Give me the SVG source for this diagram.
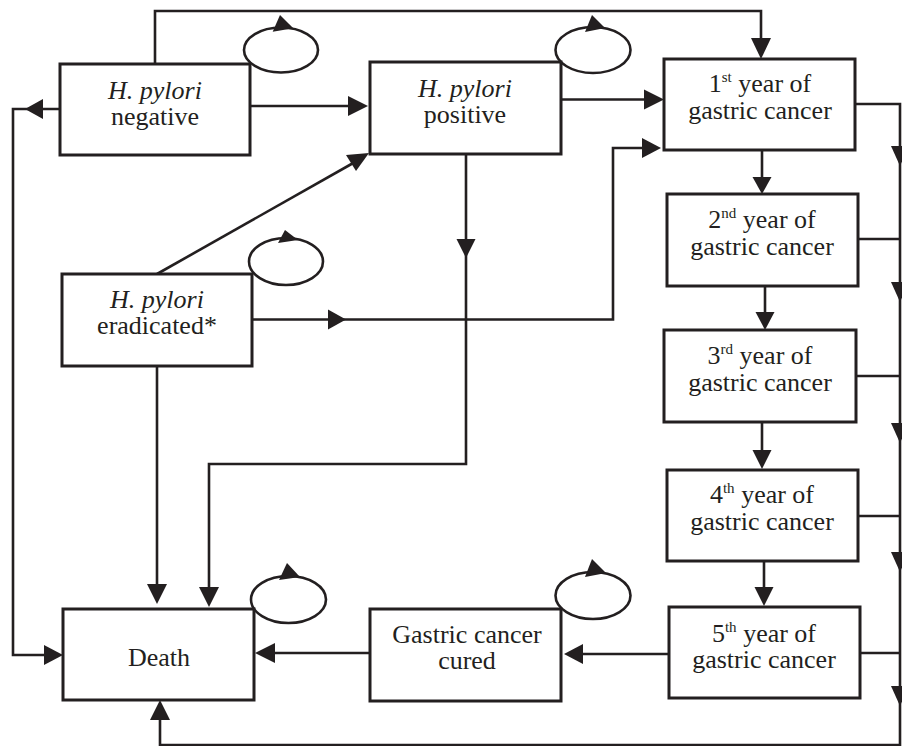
<svg xmlns="http://www.w3.org/2000/svg" width="902" height="746" viewBox="0 0 902 746">
<style>
.box{fill:#fff;stroke:#231f20;stroke-width:3}
.ln{fill:none;stroke:#231f20;stroke-width:2.6}
.ah{fill:#231f20;stroke:none}
.loop{fill:none;stroke:#231f20;stroke-width:2.6}
text{font-family:"Liberation Serif","Times New Roman",serif;font-size:26px;fill:#231f20;text-anchor:middle}
.it{font-style:italic}
.sup{font-size:15px}
</style>
<rect width="902" height="746" fill="#fff"/>
<g id="connectors">
  <!-- top line negative -> 1st -->
  <polyline class="ln" points="155,64 155,11 761,11 761,40"/>
  <polygon class="ah" points="751,38 771,38 761,59"/>
  <!-- negative -> positive -->
  <line class="ln" x1="250" y1="106" x2="350" y2="106"/>
  <polygon class="ah" points="348,96 348,116 368,106"/>
  <!-- positive -> 1st -->
  <line class="ln" x1="561" y1="99.5" x2="646" y2="99.5"/>
  <polygon class="ah" points="644,89.5 644,109.5 664,99.5"/>
  <!-- eradicated -> 1st -->
  <polyline class="ln" points="252,319.5 613,319.5 613,148 644,148"/>
  <polygon class="ah" points="328,309.5 328,329.5 346,319.5"/>
  <polygon class="ah" points="642,138 642,158 661,148"/>
  <!-- eradicated -> positive -->
  <line class="ln" x1="157" y1="274" x2="355" y2="162"/>
  <polygon class="ah" points="346,155 356,171 369,153"/>
  <!-- positive -> death -->
  <polyline class="ln" points="466,154 466,464 209,464 209,590"/>
  <polygon class="ah" points="456.5,239 475.5,239 466,258"/>
  <polygon class="ah" points="199,587 219,587 209,607"/>
  <!-- eradicated -> death -->
  <line class="ln" x1="157" y1="366" x2="157" y2="586"/>
  <polygon class="ah" points="147,584 167,584 157,604"/>
  <!-- negative -> death (left loop) -->
  <polyline class="ln" points="60,109 13,109 13,655 46,655"/>
  <polygon class="ah" points="43,99 43,119 25,109"/>
  <polygon class="ah" points="44,645 44,665 63,655"/>
  <!-- cured -> death -->
  <line class="ln" x1="370" y1="653" x2="272" y2="653"/>
  <polygon class="ah" points="275,643 275,663 255,653"/>
  <!-- 5th -> cured -->
  <line class="ln" x1="669" y1="654" x2="580" y2="654"/>
  <polygon class="ah" points="583,644 583,664 564,654"/>
  <!-- year chain -->
  <line class="ln" x1="762" y1="150" x2="762" y2="180"/>
  <polygon class="ah" points="752.5,177 771.5,177 762,194"/>
  <line class="ln" x1="765" y1="286" x2="765" y2="315"/>
  <polygon class="ah" points="755.5,312 774.5,312 765,330"/>
  <line class="ln" x1="762" y1="422" x2="762" y2="452"/>
  <polygon class="ah" points="752.5,450 771.5,450 762,469"/>
  <line class="ln" x1="764" y1="561" x2="764" y2="590"/>
  <polygon class="ah" points="754.5,587 773.5,587 764,606"/>
  <!-- right side to death -->
  <polyline class="ln" points="855,104 900,104 900,745 160,745 160,718"/>
  <line class="ln" x1="858" y1="239" x2="900" y2="239"/>
  <line class="ln" x1="856" y1="376" x2="900" y2="376"/>
  <line class="ln" x1="858" y1="516" x2="900" y2="516"/>
  <line class="ln" x1="860" y1="653" x2="900" y2="653"/>
  <polygon class="ah" points="891,146 909,146 900,166"/>
  <polygon class="ah" points="891,282 909,282 900,302"/>
  <polygon class="ah" points="891,423 909,423 900,443"/>
  <polygon class="ah" points="891,552 909,552 900,572"/>
  <polygon class="ah" points="891,686 909,686 900,706"/>
  <polygon class="ah" points="150,720 170,720 160,700"/>
</g>
<g id="loops">
  <ellipse class="loop" cx="281" cy="50" rx="37" ry="22.5"/>
  <polygon class="ah" points="272.7,31.7 280,15 293.3,28.3"/>
  <ellipse class="loop" cx="593" cy="50" rx="37.5" ry="23"/>
  <polygon class="ah" points="585,32 592,15 605,28"/>
  <ellipse class="loop" cx="286" cy="261.5" rx="37" ry="23.5"/>
  <polygon class="ah" points="278,243 285,230 298,240"/>
  <ellipse class="loop" cx="288.5" cy="599.5" rx="37.5" ry="23.5"/>
  <polygon class="ah" points="279,580 287,563 300,577"/>
  <ellipse class="loop" cx="593" cy="595.5" rx="37.5" ry="23.5"/>
  <polygon class="ah" points="585,577 592,559 606,573"/>
</g>
<g id="hp-negative">
  <rect class="box" x="60" y="64" width="190" height="91"/>
  <text x="155" y="99" class="it">H. pylori</text>
  <text x="155" y="125">negative</text>
</g>
<g id="hp-positive">
  <rect class="box" x="370" y="62" width="191" height="92"/>
  <text x="465" y="97" class="it">H. pylori</text>
  <text x="465" y="123">positive</text>
</g>
<g id="hp-eradicated">
  <rect class="box" x="62" y="274" width="190" height="92"/>
  <text x="157" y="308" class="it">H. pylori</text>
  <text x="157" y="334">eradicated*</text>
</g>
<g id="year1">
  <rect class="box" x="664" y="59" width="191" height="91"/>
  <text x="760" y="92">1<tspan class="sup" dy="-10">st</tspan><tspan dy="10"> year of</tspan></text>
  <text x="760" y="119">gastric cancer</text>
</g>
<g id="year2">
  <rect class="box" x="667" y="194" width="191" height="92"/>
  <text x="762" y="228">2<tspan class="sup" dy="-10">nd</tspan><tspan dy="10"> year of</tspan></text>
  <text x="762" y="255">gastric cancer</text>
</g>
<g id="year3">
  <rect class="box" x="664" y="330" width="192" height="92"/>
  <text x="760" y="364">3<tspan class="sup" dy="-10">rd</tspan><tspan dy="10"> year of</tspan></text>
  <text x="760" y="391">gastric cancer</text>
</g>
<g id="year4">
  <rect class="box" x="667" y="470" width="191" height="91"/>
  <text x="762" y="503">4<tspan class="sup" dy="-10">th</tspan><tspan dy="10"> year of</tspan></text>
  <text x="762" y="530">gastric cancer</text>
</g>
<g id="year5">
  <rect class="box" x="669" y="607" width="191" height="91"/>
  <text x="764" y="642">5<tspan class="sup" dy="-10">th</tspan><tspan dy="10"> year of</tspan></text>
  <text x="764" y="668">gastric cancer</text>
</g>
<g id="cured">
  <rect class="box" x="370" y="609" width="191" height="92"/>
  <text x="467" y="643">Gastric cancer</text>
  <text x="467" y="669">cured</text>
</g>
<g id="death">
  <rect class="box" x="63" y="609" width="191" height="91"/>
  <text x="159" y="666">Death</text>
</g>
</svg>
